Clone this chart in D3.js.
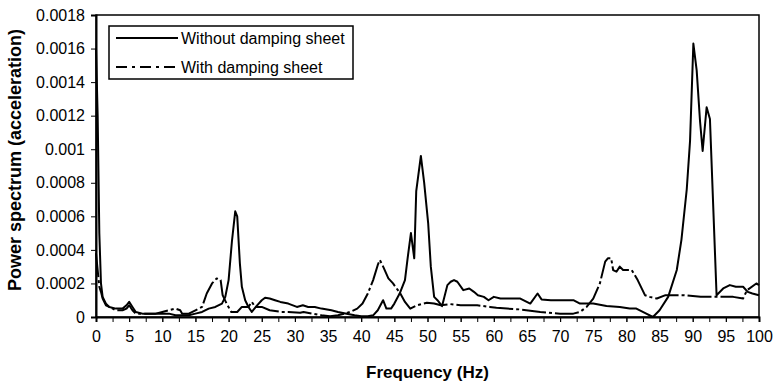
<!DOCTYPE html>
<html><head><meta charset="utf-8">
<script src="https://cdn.jsdelivr.net/npm/d3@7/dist/d3.min.js"></script>
<style>
html,body{margin:0;padding:0;background:#fff;}
svg{display:block;font-family:"Liberation Sans",Arial,sans-serif;}
</style></head>
<body><svg id="chart" width="777" height="383"></svg>
<script>
const seriesNames = ["Without damping sheet", "With damping sheet"];
const xTickValues = [0,5,10,15,20,25,30,35,40,45,50,55,60,65,70,75,80,85,90,95,100];
const xMinorTicks = d3.range(0, 100.01, 2.5);
const yTickValues = [0,0.0002,0.0004,0.0006,0.0008,0.001,0.0012,0.0014,0.0016,0.0018];
const yTickLabels = ["0","0.0002","0.0004","0.0006","0.0008","0.001","0.0012","0.0014","0.0016","0.0018"];

const freqWithout = [0,0.25,0.5,0.75,1,1.5,2,3,4,4.6,5,5.5,6,7,8,9,10,11,12,13,14,15,16,17,18,19,19.5,20,20.5,21,21.3,21.7,22,22.5,23,23.5,24.2,25,25.5,26.2,27,27.8,29,30.3,31.2,32,33,34,35.5,36.5,37.8,39,40,41,41.8,42.5,43.3,43.8,44.5,45,45.8,46.6,47,47.5,48,48.3,49,49.5,50.1,50.5,51,51.5,52.2,53,53.5,54,54.5,55.4,56.3,57,57.6,58.5,59.2,60,61,62,64,65.5,66.6,67.2,68.6,70,72,73,75,77,79,80.5,81.5,83,84,85,86.3,87.6,88.3,89.1,89.6,90.1,90.6,91.1,91.5,92.1,92.6,93.6,94.6,95.6,96.5,97.6,98.3,99,100];
const valWithout = [0.0016,0.0012,0.0005,0.0002,0.00012,0.00008,0.00006,0.00005,0.00005,0.00007,0.00009,0.00006,0.00003,0.00002,0.00002,0.00002,0.00002,0.00002,0.00001,0.00001,0.00001,0.00002,0.00003,0.00005,0.00006,0.00008,0.00012,0.00022,0.00045,0.00063,0.0006,0.00032,0.00018,0.0001,0.00006,0.00003,0.000065,0.0001,0.000115,0.00011,0.0001,0.00009,0.00008,0.00006,0.00007,0.00006,0.00006,0.00005,0.00004,0.00003,0.00002,0.00001,0.000005,0.000005,0.00001,0.00004,0.0001,0.00005,0.00005,0.00008,0.00014,0.00022,0.00035,0.0005,0.00035,0.00075,0.00096,0.0008,0.00056,0.0003,0.00012,0.0001,0.000065,0.00019,0.00021,0.00022,0.00021,0.00016,0.00017,0.00015,0.00013,0.00012,0.0001,0.00012,0.00011,0.00011,0.00011,0.00008,0.00014,0.000105,0.0001,0.0001,0.0001,0.00008,0.00008,0.000065,0.00006,0.00005,0.00005,0.00002,0,0.00004,0.00012,0.00028,0.00046,0.00076,0.00105,0.00163,0.00147,0.00117,0.00099,0.00125,0.00118,0.00013,0.00017,0.00019,0.00018,0.00018,0.00015,0.00014,0.00013];

const freqWith = [0,0.25,0.5,0.75,1,1.5,2,3,4,4.6,5,5.5,6,7,8,9,10,11,12,12.7,13,14,15,16,16.7,17.5,18.2,18.8,19.1,19.7,20.4,21.3,22,23,23.5,24,25,26.2,28,29,30.8,31.3,32.7,34,35.3,36.5,37.5,38.3,39.4,40.2,41,41.8,42.5,42.8,43.2,44.1,44.8,45.9,46.6,47.4,48.4,49.9,51,52,53.4,55,57.5,59.4,60.4,62,64,67,70,72,73,74,75,76,76.8,77.2,77.7,78,78.5,79,79.5,80.8,81.7,82.8,83.5,84.6,85.9,88.7,91.2,93.7,96.1,97.6,98.2,99.6,100];
const valWith = [0.00038,0.00028,0.00018,0.00015,0.00011,0.00007,0.00006,0.00004,0.00004,0.00005,0.00007,0.00004,0.00002,0.00002,0.00002,0.00002,0.00003,0.00004,0.00005,0.00004,0.00002,0.00002,0.00004,0.00006,0.00014,0.0002,0.00023,0.00022,0.00013,0.00008,0.00003,0.00003,0.00006,0.00006,0.00009,0.00006,0.00006,0.00004,0.00003,0.00003,0.000025,0.00003,0.00002,0.00001,0.000005,0.00001,0.00002,0.00003,0.00005,0.00008,0.00014,0.00022,0.00031,0.00034,0.00031,0.00023,0.0002,0.00014,0.00009,0.00005,0.00007,0.000085,0.00008,0.00007,0.000077,0.00007,0.00007,0.00006,0.000055,0.00005,0.000045,0.00003,0.00002,0.00002,0.00003,0.00006,0.00011,0.0002,0.00033,0.00035,0.00035,0.00028,0.00027,0.0003,0.00028,0.00028,0.00022,0.00013,0.00012,0.00011,0.00013,0.00013,0.00012,0.00012,0.00012,0.00011,0.00016,0.0002,0.00019];

const svg = d3.select("#chart");
const m = {left:96, right:18, top:15, bottom:66};
const W = 777, H = 383;
const x = d3.scaleLinear().domain([0,100]).range([m.left, W - m.right]);
const y = d3.scaleLinear().domain([0,0.0018]).range([H - m.bottom, m.top]);

// frame
svg.append("rect").attr("x", x(0)).attr("y", y(0.0018))
  .attr("width", x(100)-x(0)).attr("height", y(0)-y(0.0018))
  .attr("fill","none").attr("stroke","#000").attr("stroke-width",1.5);

// y axis
const yAxis = svg.append("g").attr("transform",`translate(${x(0)},0)`)
  .call(d3.axisLeft(y).tickValues(yTickValues).tickSize(5).tickPadding(6)
    .tickFormat((d,i)=>yTickLabels[i]));
yAxis.select(".domain").attr("stroke-width",2);
yAxis.selectAll("text").attr("font-size",16).attr("fill","#000").attr("font-family","Liberation Sans, Arial, sans-serif");

// x minor ticks
const xMinor = svg.append("g").attr("transform",`translate(0,${y(0)})`)
  .call(d3.axisBottom(x).tickValues(xMinorTicks).tickSize(5).tickFormat(""));
xMinor.select(".domain").remove();

// x axis
const xAxis = svg.append("g").attr("transform",`translate(0,${y(0)})`)
  .call(d3.axisBottom(x).tickValues(xTickValues).tickSize(5).tickPadding(9).tickFormat(d3.format("d")));
xAxis.select(".domain").attr("stroke-width",2);
xAxis.selectAll("text").attr("font-size",16).attr("fill","#000").attr("font-family","Liberation Sans, Arial, sans-serif");

// titles
svg.append("text").attr("x", (x(0)+x(100))/2).attr("y", 378)
  .attr("text-anchor","middle").attr("font-weight","bold").attr("font-size",17)
  .text("Frequency (Hz)");
svg.append("text").attr("transform",`translate(21,160) rotate(-90)`)
  .attr("text-anchor","middle").attr("font-weight","bold").attr("font-size",18)
  .text("Power spectrum (acceleration)");

const line = d3.line().x(d=>x(d[0])).y(d=>y(d[1]));
const dataWithout = freqWithout.map((f,i)=>[f,valWithout[i]]);
const dataWith = freqWith.map((f,i)=>[f,valWith[i]]);

svg.append("path").datum(dataWith).attr("d",line).attr("fill","none")
  .attr("stroke","#000").attr("stroke-width",2).attr("stroke-dasharray","24,3,3,3")
  .attr("stroke-linejoin","round");
svg.append("path").datum(dataWithout).attr("d",line).attr("fill","none")
  .attr("stroke","#000").attr("stroke-width",2).attr("stroke-linejoin","round");

// legend
const lg = svg.append("g");
lg.append("rect").attr("x",109).attr("y",26).attr("width",244).attr("height",53)
  .attr("fill","#fff").attr("stroke","#000").attr("stroke-width",1.5);
const legendRows = [{name:seriesNames[0], dash:null, yy:38},{name:seriesNames[1], dash:"11,5,3,5", yy:67}];
legendRows.forEach(r=>{
  lg.append("line").attr("x1",116).attr("x2",178).attr("y1",r.yy).attr("y2",r.yy)
    .attr("stroke","#000").attr("stroke-width",2).attr("stroke-dasharray",r.dash);
  lg.append("text").attr("x",181).attr("y",r.yy).attr("dy","0.35em")
    .attr("font-size",16).text(r.name);
});
</script></body></html>
